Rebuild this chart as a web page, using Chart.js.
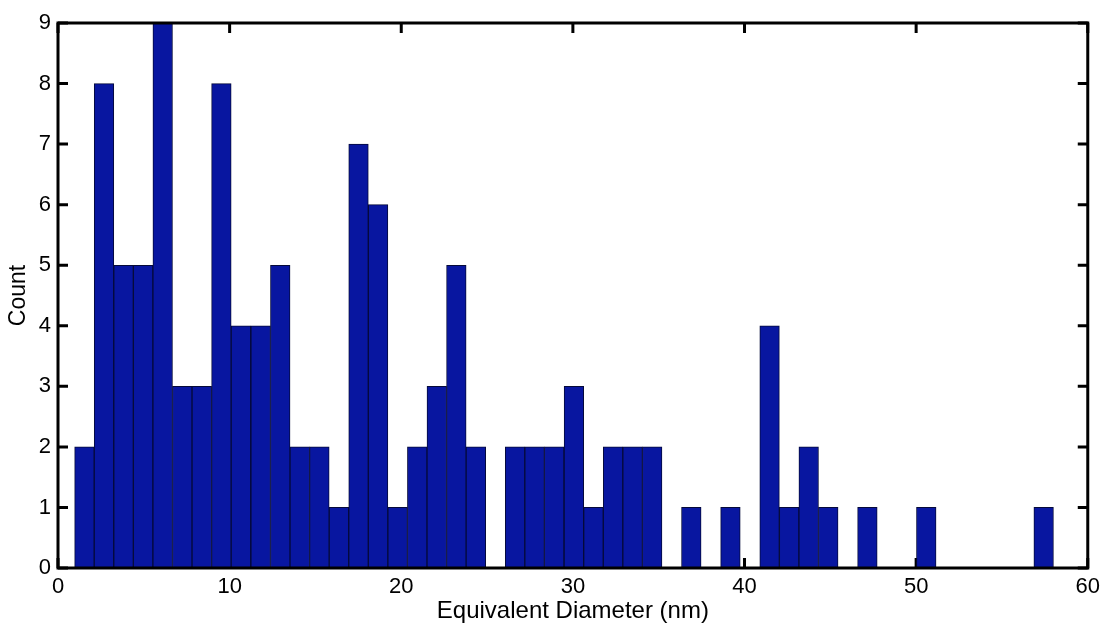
<!DOCTYPE html>
<html>
<head>
<meta charset="utf-8">
<script src="https://cdn.jsdelivr.net/npm/chart.js@4"></script>
<style>
  html, body { margin: 0; padding: 0; background: #ffffff; }
  #c { display: block; }
</style>
</head>
<body>
<canvas id="c" width="1106" height="628"></canvas>
<script>
// Histogram bin centres (nm) (50 bins from ~0.97 to ~58.0 nm)
const binCenters = [1.54, 2.68, 3.82, 4.96, 6.10, 7.24, 8.38, 9.52, 10.66, 11.81,
                    12.95, 14.09, 15.23, 16.37, 17.51, 18.65, 19.79, 20.93, 22.07, 23.21,
                    24.35, 25.49, 26.63, 27.77, 28.91, 30.06, 31.20, 32.34, 33.48, 34.62,
                    35.76, 36.90, 38.04, 39.18, 40.32, 41.46, 42.60, 43.74, 44.88, 46.02,
                    47.16, 48.31, 49.45, 50.59, 51.73, 52.87, 54.01, 55.15, 56.29, 57.43];
// Counts per bin
const counts = [2, 8, 5, 5, 9, 3, 3, 8, 4, 4,
                5, 2, 2, 1, 7, 6, 1, 2, 3, 5,
                2, 0, 2, 2, 2, 3, 1, 2, 2, 2,
                0, 1, 0, 1, 0, 4, 1, 2, 1, 0,
                1, 0, 0, 1, 0, 0, 0, 0, 0, 1];
const xTicks = [0, 10, 20, 30, 40, 50, 60];
const yTicks = [0, 1, 2, 3, 4, 5, 6, 7, 8, 9];
const xTitle = 'Equivalent Diameter (nm)';
const yTitle = 'Count';

const points = binCenters.map((x, i) => ({ x: x, y: counts[i] }));

const FONT = "'Liberation Sans', Arial, Helvetica, sans-serif";

const innerTicks = {
  id: 'innerTicks',
  beforeDatasetsDraw(chart) {
    const { ctx, chartArea: a, scales } = chart;
    const L = 10;
    ctx.save();
    ctx.strokeStyle = '#000';
    ctx.lineWidth = 3;
    ctx.beginPath();
    xTicks.forEach(v => {
      const px = scales.x.getPixelForValue(v);
      ctx.moveTo(px, a.top); ctx.lineTo(px, a.top + L);
      ctx.moveTo(px, a.bottom); ctx.lineTo(px, a.bottom - L);
    });
    yTicks.forEach(v => {
      const py = scales.y.getPixelForValue(v);
      ctx.moveTo(a.left, py); ctx.lineTo(a.left + L, py);
      ctx.moveTo(a.right, py); ctx.lineTo(a.right - L, py);
    });
    ctx.stroke();
    ctx.restore();
  },
  afterDatasetsDraw(chart) {
    const { ctx, chartArea: a } = chart;
    ctx.save();
    ctx.strokeStyle = '#000';
    ctx.lineWidth = 3;
    ctx.strokeRect(a.left, a.top, a.right - a.left, a.bottom - a.top);
    ctx.restore();
  }
};

new Chart(document.getElementById('c'), {
  type: 'bar',
  data: {
    datasets: [{
      data: points,
      backgroundColor: '#0816a0',
      borderColor: '#050a3a',
      borderWidth: 1,
      borderSkipped: 'start',
      barPercentage: 1.0,
      categoryPercentage: 1.0
    }]
  },
  options: {
    responsive: false,
    animation: false,
    devicePixelRatio: 1,
    layout: { padding: { top: 23, right: 18, bottom: 0, left: 0 } },
    plugins: { legend: { display: false }, tooltip: { enabled: false } },
    scales: {
      x: {
        type: 'linear',
        min: 0, max: 60,
        offset: false,
        afterFit(s) { s.height = 60; },
        afterBuildTicks(s) { s.ticks = xTicks.map(v => ({ value: v })); },
        grid: { display: false, drawTicks: false },
        border: { display: false },
        ticks: { color: '#000', padding: 6, maxRotation: 0, font: { family: FONT, size: 22 } },
        title: { display: true, text: xTitle, color: '#000', padding: { top: 0, bottom: 2 },
                 font: { family: FONT, size: 24 } }
      },
      y: {
        type: 'linear',
        min: 0, max: 9,
        afterFit(s) { s.width = 58; },
        afterBuildTicks(s) { s.ticks = yTicks.map(v => ({ value: v })); },
        grid: { display: false, drawTicks: false },
        border: { display: false },
        ticks: { color: '#000', padding: 7, font: { family: FONT, size: 22 } },
        title: { display: true, text: yTitle, color: '#000', padding: { top: 5, bottom: 0 },
                 font: { family: FONT, size: 23 } }
      }
    }
  },
  plugins: [innerTicks]
});
</script>
</body>
</html>
